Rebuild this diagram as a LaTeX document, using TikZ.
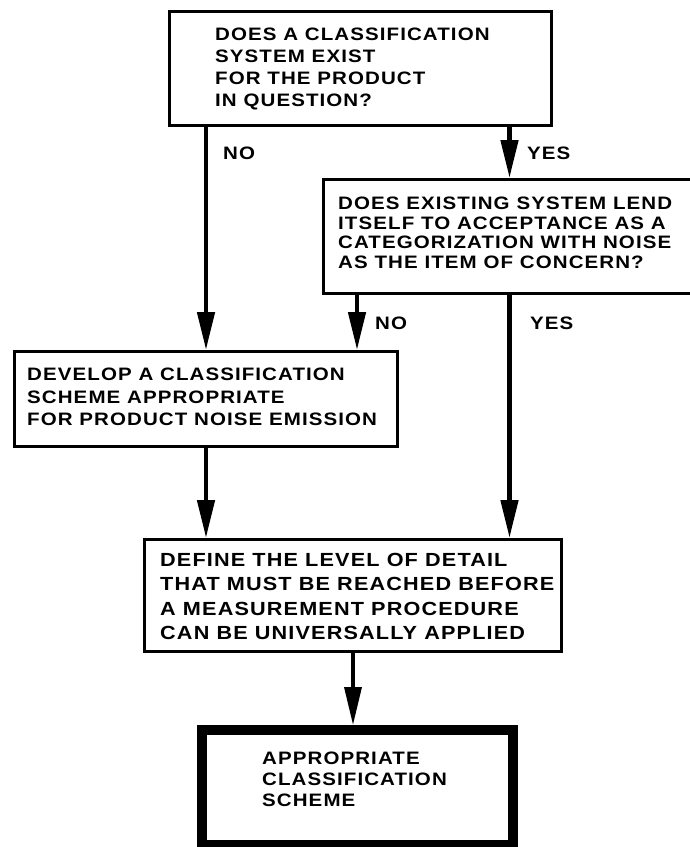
\documentclass[tikz,border=0pt]{standalone}
\usepackage{fontspec}
\newfontfamily\lbl[FakeStretch=1.14,LetterSpace=6]{Liberation Sans}
\usetikzlibrary{arrows.meta}
\begin{document}
\begin{tikzpicture}[x=1pt,y=-1pt,
  box/.style={draw=black, line width=3pt, fill=white, anchor=north west, inner sep=0pt},
  finbox/.style={draw=black, line width=10pt, fill=white, anchor=north west, inner sep=0pt},
  txt/.style={anchor=north west, inner sep=0pt, align=left, font=\lbl\bfseries\fontsize{18}{22}\selectfont},
  flow/.style={line width=4.5pt, -{Triangle[length=38pt,width=17pt]}},
]
\useasboundingbox (0,0) rectangle (690,847);
% boxes
\node[box, minimum width=382pt, minimum height=114pt] (q1) at (168,10) {};
\node[box, minimum width=372pt, minimum height=114pt] (q2) at (322,178) {};
\node[box, minimum width=383pt, minimum height=95pt] (dev) at (13,350) {};
\node[box, minimum width=417pt, minimum height=112pt] (def) at (143,538) {};
\node[finbox, minimum width=311pt, minimum height=115pt] (fin) at (197,725) {};
% texts
\node[txt] (t1) at (215,28) {DOES A CLASSIFICATION\\SYSTEM EXIST\\FOR THE PRODUCT\\IN QUESTION?};
\node[txt, font=\lbl\bfseries\fontsize{18}{19.5}\selectfont] (t2) at (338,197) {DOES EXISTING SYSTEM LEND\\ITSELF TO ACCEPTANCE AS A\\CATEGORIZATION WITH NOISE\\AS THE ITEM OF CONCERN?};
\node[txt, font=\lbl\bfseries\fontsize{18}{22.5}\selectfont] (t3) at (27,368) {DEVELOP A CLASSIFICATION\\SCHEME APPROPRIATE\\FOR PRODUCT NOISE EMISSION};
\node[txt, font=\lbl\bfseries\fontsize{19}{24.5}\selectfont] (t4) at (160,553) {DEFINE THE LEVEL OF DETAIL\\THAT MUST BE REACHED BEFORE\\A MEASUREMENT PROCEDURE\\CAN BE UNIVERSALLY APPLIED};
\node[txt, font=\lbl\bfseries\fontsize{18}{21}\selectfont] (t5) at (262,752) {APPROPRIATE\\CLASSIFICATION\\SCHEME};
% labels
\node[txt] (no1) at (223,147) {NO};
\node[txt] (yes1) at (527,147) {YES};
\node[txt] (no2) at (375,317) {NO};
\node[txt] (yes2) at (530,317) {YES};
% connectors
\draw[flow] (q1.south west -| dev.north) -- (dev.north);
\draw[flow] (q1.south -| q2.north) -- (q2.north);
\draw[flow] ([xshift=35pt]q2.south west) -- ([xshift=35pt]q2.south west |- dev.north);
\draw[flow] (q2.south) -- (q2.south |- def.north);
\draw[flow] (dev.south) -- (dev.south |- def.north);
\draw[flow, line width=3.5pt] (def.south) -- (def.south |- fin.north);
\end{tikzpicture}
\end{document}
